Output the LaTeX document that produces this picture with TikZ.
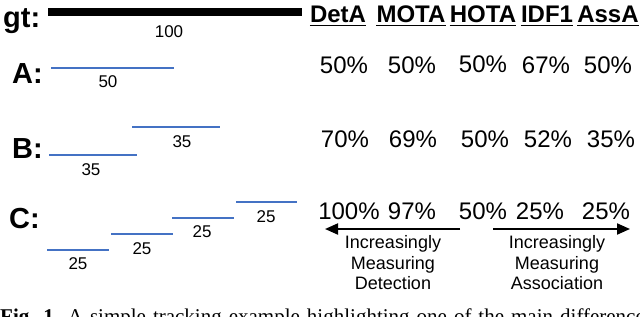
\documentclass[tikz,border=0pt]{standalone}
\usepackage{fontspec}
\setmainfont{Liberation Sans}
\newfontfamily\capfont{Liberation Serif}
\usetikzlibrary{arrows.meta}
\definecolor{segblue}{RGB}{68,114,196}
\begin{document}
\begin{tikzpicture}[x=1pt,y=-1pt,
 lbl/.style={font=\fontsize{29}{29}\selectfont\bfseries, anchor=base west, inner sep=0},
 hdr/.style={font=\fontsize{24}{24}\selectfont\bfseries, anchor=base, inner sep=0},
 val/.style={font=\fontsize{24}{24}\selectfont, anchor=base, inner sep=0},
 len/.style={font=\fontsize{17}{17}\selectfont, anchor=base, inner sep=0},
 seg/.style={segblue, line width=2.5pt},
 gtbar/.style={black, line width=8pt},
 uline/.style={line width=1.5pt},
 note/.style={font=\fontsize{18}{20.5}\selectfont, align=center, inner sep=0},
 bigarrow/.style={line width=2pt, -{Triangle[length=13pt,width=11pt]}}]
\useasboundingbox (0,0) rectangle (640,316);
\clip (0,0) rectangle (640,316);
% row labels
\node[lbl] (lgt) at (3,27) {gt:};
\node[lbl] (lA) at (12,83) {A:};
\node[lbl] (lB) at (12,158) {B:};
\node[lbl] (lC) at (9,228) {C:};
% ground truth
\draw[gtbar] (48,12) -- (302,12);
\node[len] (n100) at (169,37) {100};
% A
\draw[seg] (51,68) -- (174,68);
\node[len] (nA) at (108,87) {50};
% B
\draw[seg] (49,155) -- (137,155);
\node[len] (nB1) at (91,175) {35};
\draw[seg] (132,127) -- (220,127);
\node[len] (nB2) at (182,147) {35};
% C
\draw[seg] (47,250) -- (109,250);
\node[len] (nC1) at (78,269) {25};
\draw[seg] (111,234) -- (173,234);
\node[len] (nC2) at (142,254) {25};
\draw[seg] (172,218) -- (234,218);
\node[len] (nC3) at (202,237) {25};
\draw[seg] (236,202) -- (297,202);
\node[len] (nC4) at (266,222) {25};
% headers
\node[hdr] (hDet) at (338,22) {DetA};
\node[hdr] (hMOTA) at (411,22) {MOTA};
\node[hdr] (hHOTA) at (483,22) {HOTA};
\node[hdr] (hIDF) at (547,22) {IDF1};
\node[hdr] (hAss) at (608,22) {AssA};
\foreach \h in {hDet,hMOTA,hHOTA,hIDF,hAss}
  \draw[uline] ([yshift=-3.5pt]\h.base west) -- ([yshift=-3.5pt]\h.base east);
% row A values
\node[val] (a1) at (344,73) {50\%};
\node[val] (a2) at (412,73) {50\%};
\node[val] (a3) at (483,72) {50\%};
\node[val] (a4) at (546,73) {67\%};
\node[val] (a5) at (608,73) {50\%};
% row B values
\node[val] (b1) at (345,147) {70\%};
\node[val] (b2) at (413,147) {69\%};
\node[val] (b3) at (485,147) {50\%};
\node[val] (b4) at (548,147) {52\%};
\node[val] (b5) at (611,147) {35\%};
% row C values
\node[val] (c1) at (349,219) {100\%};
\node[val] (c2) at (412,219) {97\%};
\node[val] (c3) at (483,219) {50\%};
\node[val] (c4) at (540,219) {25\%};
\node[val] (c5) at (606,219) {25\%};
% arrows
\coordinate (lstart) at (460,229);
\coordinate (lend) at (325,229);
\coordinate (rstart) at (493,229);
\coordinate (rend) at (630,229);
\draw[bigarrow] (lstart) -- (lend);
\draw[bigarrow] (rstart) -- (rend);
\node[note] (tdet) at (393,263) {Increasingly\\Measuring\\Detection};
\node[note] (tass) at (557,263) {Increasingly\\Measuring\\Association};
% clipped caption
\node[anchor=base west, inner sep=0, font=\capfont\fontsize{21}{21}\selectfont] (cap) at (0,323)
  {\spaceskip=7pt plus 1pt\relax\textbf{Fig. 1.} A simple tracking example highlighting one of the main differences};
\end{tikzpicture}
\end{document}
